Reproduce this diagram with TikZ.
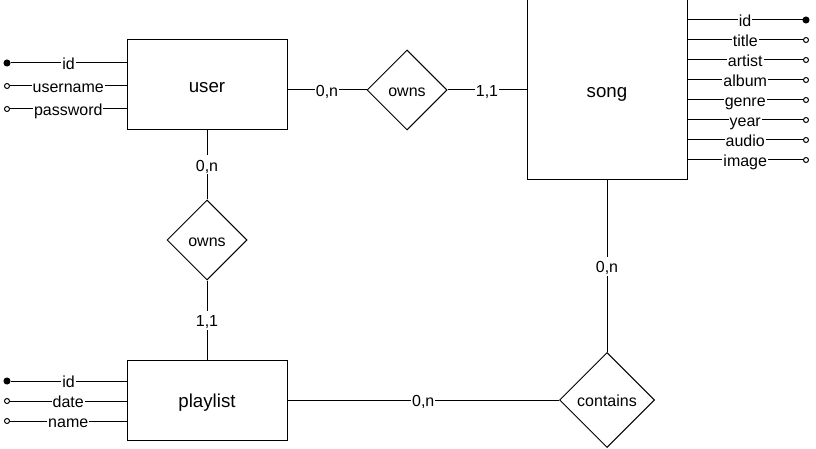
\documentclass[tikz,border=0pt]{standalone}
\usepackage{fontspec}
\setmainfont{Liberation Sans}
\usetikzlibrary{shapes.geometric}
\tikzset{every picture/.style={x=1pt,y=-1pt,line width=1pt},
  entity/.style={draw,minimum width=160pt,minimum height=90pt,text height=17pt,text depth=2.5pt,font=\fontsize{18.7}{22}\selectfont},
  relation/.style={draw,diamond,minimum size=80pt,inner sep=0pt,text height=15pt,text depth=2pt,font=\fontsize{16}{19}\selectfont},
  card/.style={fill=white,inner sep=1pt,text height=15pt,text depth=2pt,font=\fontsize{16}{19}\selectfont},
  attr/.style={fill=white,inner sep=1pt,text height=15pt,text depth=2pt,font=\fontsize{16}{19}\selectfont},
  keydot/.style={circle,draw,fill=black,inner sep=0pt,minimum size=6pt},
  optdot/.style={circle,draw,fill=white,inner sep=0pt,minimum size=5pt}}

\begin{document}
\begin{tikzpicture}
  \useasboundingbox (0,0) rectangle (816,449);
  % entities
  \node (user) [entity] at (207,85) {user};
  \node (song) [entity,minimum height=180pt] at (607,90) {song};
  \node (plist) [entity,minimum height=80pt] at (207,400) {playlist};
  % relations
  \node (own1) [relation] at (407,90) {owns};
  \node (own2) [relation] at (207,240) {owns};
  \node (cont) [relation,minimum size=95pt] at (607,400) {contains};
  % links
  \draw (user.east |- own1) to node[card] {0,n} (own1);
  \draw (own1) to node[card] {1,1} (song.west |- own1);
  \draw (user) to node[card] {0,n} (own2);
  \draw (own2) to node[card] {1,1} (plist);
  \draw (song) to node[card] {0,n} (cont);
  \draw (plist) to node[card] {0,n} (cont);
  % user attributes
  \node (uid) [keydot] at (7,63) {};
  \node (uname) [optdot] at (7,86) {};
  \node (upass) [optdot] at (7,109) {};
  \draw (uid) -- node[attr] {id} (user.west |- uid);
  \draw (uname) -- node[attr] {username} (user.west |- uname);
  \draw (upass) -- node[attr] {password} (user.west |- upass);
  % playlist attributes
  \node (pid) [keydot] at (7,381) {};
  \node (pdate) [optdot] at (7,401) {};
  \node (pname) [optdot] at (7,421) {};
  \draw (pid) -- node[attr] {id} (plist.west |- pid);
  \draw (pdate) -- node[attr] {date} (plist.west |- pdate);
  \draw (pname) -- node[attr] {name} (plist.west |- pname);
  % song attributes
  \node (sid) [keydot] at (806,20) {};
  \node (stitle) [optdot] at (806,40) {};
  \node (sartist) [optdot] at (806,60) {};
  \node (salbum) [optdot] at (806,80) {};
  \node (sgenre) [optdot] at (806,100) {};
  \node (syear) [optdot] at (806,120) {};
  \node (saudio) [optdot] at (806,140) {};
  \node (simage) [optdot] at (806,160) {};
  \draw (song.east |- sid) -- node[attr] {id} (sid);
  \draw (song.east |- stitle) -- node[attr] {title} (stitle);
  \draw (song.east |- sartist) -- node[attr] {artist} (sartist);
  \draw (song.east |- salbum) -- node[attr] {album} (salbum);
  \draw (song.east |- sgenre) -- node[attr] {genre} (sgenre);
  \draw (song.east |- syear) -- node[attr] {year} (syear);
  \draw (song.east |- saudio) -- node[attr] {audio} (saudio);
  \draw (song.east |- simage) -- node[attr] {image} (simage);
\end{tikzpicture}
\end{document}
